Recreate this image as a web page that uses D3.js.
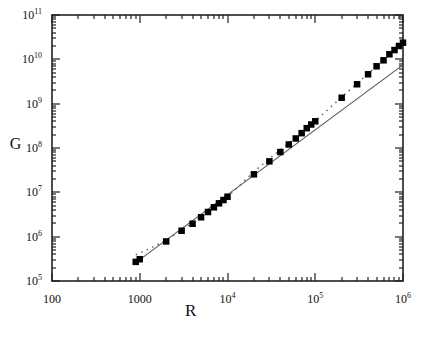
<!DOCTYPE html>
<html>
<head>
<meta charset="utf-8">
<script src="https://cdn.jsdelivr.net/npm/d3@7"></script>
<style>
  body { margin: 0; background: #fff; }
  text { font-family: "Liberation Serif", "DejaVu Serif", serif; fill: #111; }
</style>
</head>
<body>
<div id="chart"></div>
<script>
var svgWidth = 432;
var svgHeight = 337;

var margin = {
  top: 15,
  right: 29,
  bottom: 56,
  left: 52
};

var width = svgWidth - margin.left - margin.right;
var height = svgHeight - margin.top - margin.bottom;

// measured points (squares)
var rValues = [900, 1000, 2000, 3000, 4000, 5000, 6000, 7000, 8000, 9000,
  1e4, 2e4, 3e4, 4e4, 5e4, 6e4, 7e4, 8e4, 9e4, 1e5,
  2e5, 3e5, 4e5, 5e5, 6e5, 7e5, 8e5, 9e5, 1e6];
var gValues = [2.7e5, 3.1e5, 7.8e5, 1.36e6, 1.96e6, 2.74e6, 3.6e6, 4.6e6, 5.65e6, 6.7e6,
  7.96e6, 2.55e7, 5.0e7, 8.1e7, 1.2e8, 1.64e8, 2.16e8, 2.8e8, 3.39e8, 4.0e8,
  1.36e9, 2.74e9, 4.6e9, 6.97e9, 9.5e9, 1.3e10, 1.62e10, 2.0e10, 2.37e10];

// solid straight line
var solidR = [900, 1e6];
var solidG = [2.6e5, 7.5e9];

// dotted curve
var dotR = [900, 2000, 5000, 1e4, 2e4, 5e4, 1e5, 2e5, 5e5, 1e6];
var dotG = [3.9e5, 8.4e5, 2.8e6, 8e6, 2.9e7, 1.3e8, 4.1e8, 1.4e9, 7.0e9, 2.4e10];

// tick labels
var xTickVals = [100, 1000, 1e4, 1e5, 1e6];
var xTickBase = ["100", "1000", "10", "10", "10"];
var xTickExp = ["", "", "4", "5", "6"];
var yTickVals = [1e5, 1e6, 1e7, 1e8, 1e9, 1e10, 1e11];
var yTickBase = ["10", "10", "10", "10", "10", "10", "10"];
var yTickExp = ["5", "6", "7", "8", "9", "10", "11"];

var svg = d3
  .select("#chart")
  .append("svg")
  .attr("width", svgWidth)
  .attr("height", svgHeight);

var chartGroup = svg.append("g")
  .attr("transform", `translate(${margin.left}, ${margin.top})`);

var xScale = d3.scaleLog().domain([100, 1e6]).range([0, width]);
var yScale = d3.scaleLog().domain([1e5, 1e11]).range([height, 0]);

// minor ticks 2..9 in every decade
function minorTicks(lo, hi) {
  var out = [];
  for (var d = lo; d < hi; d *= 10) {
    for (var k = 2; k <= 9; k++) out.push(d * k);
  }
  return out;
}
var xMinor = minorTicks(100, 1e6);
var yMinor = minorTicks(1e5, 1e11);

// inward ticks on all four sides, small rects so they stay crisp
function tickRects(vals, len, horizontal) {
  var sides = horizontal ? [0, width - len] : [height - len, 0];
  sides.forEach(function(s) {
    chartGroup.append("g").selectAll("rect")
      .data(vals)
      .enter()
      .append("rect")
      .attr("x", d => horizontal ? s : Math.round(xScale(d)) - 0.6)
      .attr("y", d => horizontal ? Math.round(yScale(d)) - 0.6 : s)
      .attr("width", horizontal ? len : 1.2)
      .attr("height", horizontal ? 1.2 : len)
      .attr("fill", "#222");
  });
}
tickRects(xTickVals, 8, false);
tickRects(xMinor, 4, false);
tickRects(yTickVals, 8, true);
tickRects(yMinor, 4, true);

// frame
chartGroup.append("rect")
  .attr("x", 0)
  .attr("y", 0)
  .attr("width", width)
  .attr("height", height)
  .attr("fill", "none")
  .attr("stroke", "#222")
  .attr("stroke-width", 1.6);

// x tick labels
var xLab = chartGroup.append("g").selectAll("text")
  .data(xTickVals)
  .enter()
  .append("text")
  .attr("x", d => xScale(d))
  .attr("y", height + 22)
  .attr("text-anchor", "middle")
  .attr("font-size", "12px");
xLab.append("tspan").text((d, i) => xTickBase[i]);
xLab.append("tspan")
  .attr("dy", "-5")
  .attr("font-size", "8px")
  .text((d, i) => xTickExp[i]);

// y tick labels
var yLab = chartGroup.append("g").selectAll("text")
  .data(yTickVals)
  .enter()
  .append("text")
  .attr("x", -10)
  .attr("y", d => yScale(d) + 4)
  .attr("text-anchor", "end")
  .attr("font-size", "12px");
yLab.append("tspan").text((d, i) => yTickBase[i]);
yLab.append("tspan")
  .attr("dy", "-5")
  .attr("font-size", "8px")
  .text((d, i) => yTickExp[i]);

// axis titles
chartGroup.append("text")
  .attr("x", xScale(4000) - 2)
  .attr("y", height + 35)
  .attr("text-anchor", "middle")
  .attr("font-size", "17px")
  .text("R");

chartGroup.append("text")
  .attr("x", 15.5 - margin.left)
  .attr("y", yScale(1e8) + 1)
  .attr("text-anchor", "middle")
  .attr("font-size", "16px")
  .text("G");

// lines
var line = d3.line()
  .x(d => xScale(d[0]))
  .y(d => yScale(d[1]));

chartGroup.append("path")
  .datum(solidR.map((r, i) => [r, solidG[i]]))
  .attr("d", line)
  .attr("fill", "none")
  .attr("stroke", "#555")
  .attr("stroke-width", 1.1);

chartGroup.append("path")
  .datum(dotR.map((r, i) => [r, dotG[i]]))
  .attr("d", line.curve(d3.curveMonotoneX))
  .attr("fill", "none")
  .attr("stroke", "#666")
  .attr("stroke-width", 1.5)
  .attr("stroke-dasharray", "1.5,4.5");

// squares
var sq = 6.5;
chartGroup.selectAll("rect.pt")
  .data(rValues.map((r, i) => [r, gValues[i]]))
  .enter()
  .append("rect")
  .attr("class", "pt")
  .attr("x", d => xScale(d[0]) - sq / 2)
  .attr("y", d => yScale(d[1]) - sq / 2)
  .attr("width", sq)
  .attr("height", sq)
  .attr("fill", "#000");
</script>
</body>
</html>
